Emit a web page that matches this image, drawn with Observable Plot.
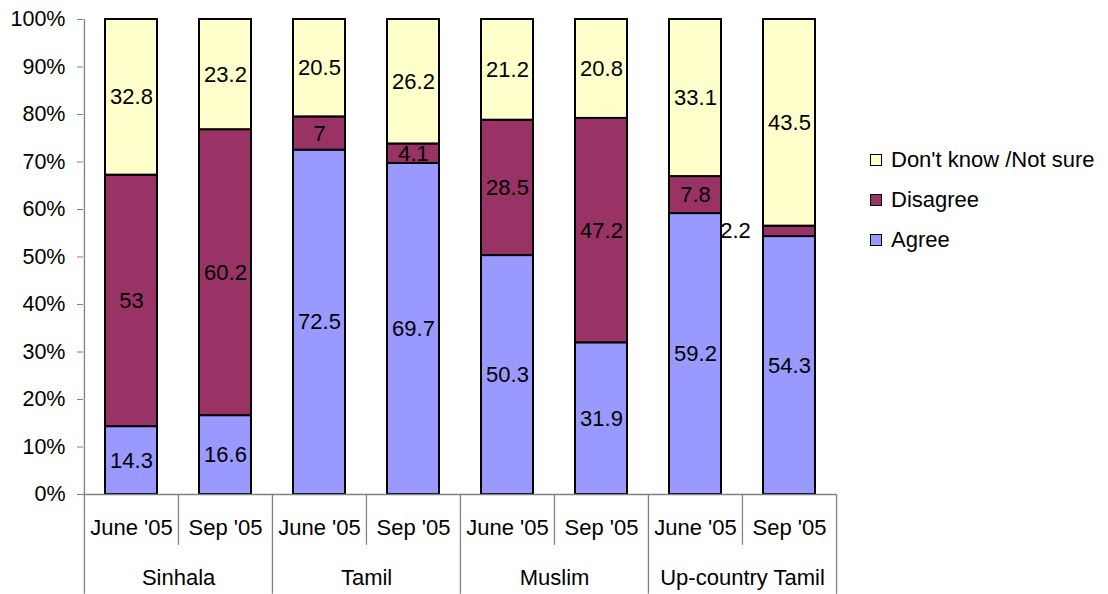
<!DOCTYPE html>
<html><head><meta charset="utf-8">
<script src="https://cdn.jsdelivr.net/npm/d3@7"></script>
<script src="https://cdn.jsdelivr.net/npm/@observablehq/plot@0.6"></script>
<style>
body{margin:0;background:#fff;font-family:"Liberation Sans",Arial,sans-serif;}
#wrap{position:relative;width:1108px;height:594px;overflow:hidden;}
#wrap svg{position:absolute;left:0;top:0;}
.legend{position:absolute;left:870px;top:140px;font-size:22px;color:#000;}
.item{display:flex;align-items:center;height:40px;white-space:pre;}
.sw{width:10px;height:10px;border:1.5px solid #000;margin-right:9px;}
</style></head><body><div id="wrap"></div>
<script>
const groups = ["Sinhala", "Tamil", "Muslim", "Up-country Tamil"];
const periods = ["June '05", "Sep '05"];
const series = ["Agree", "Disagree", "Don't know /Not sure"];
const agree = [14.3, 16.6, 72.5, 69.7, 50.3, 31.9, 59.2, 54.3];
const disagree = [53, 60.2, 7, 4.1, 28.5, 47.2, 7.8, 2.2];
const dontKnow = [32.8, 23.2, 20.5, 26.2, 21.2, 20.8, 33.1, 43.5];
const colors = ["#9999FF", "#993366", "#FFFFCC"];
const yTicks = [0, 0.1, 0.2, 0.3, 0.4, 0.5, 0.6, 0.7, 0.8, 0.9, 1];

const keys = [];
groups.forEach(g => periods.forEach(p => keys.push(g + "|" + p)));
const seriesValues = [agree, disagree, dontKnow];
const data = [];
keys.forEach((k, i) => series.forEach((s, j) => data.push({key: k, series: s, value: seriesValues[j][i]})));
const special = d => d.key === "Up-country Tamil|Sep '05" && d.series === "Disagree";

const W = 1108, H = 594, mL = 83, mR = 272, mT = 19, mB = 100;
const step = (W - mL - mR) / keys.length;
const firstKeys = groups.map(g => g + "|" + periods[0]);
const lastKey = keys[keys.length - 1];
const innerSep = groups.map(g => g + "|" + periods[1]);
const axisGrey = "#808080";

const chart = Plot.plot({
  width: W, height: H,
  marginLeft: mL, marginRight: mR, marginTop: mT, marginBottom: mB,
  style: {fontFamily: "'Liberation Sans', Arial, sans-serif", fontSize: "22px", color: "#000", background: "transparent"},
  x: {domain: keys, paddingInner: 0.45, paddingOuter: 0.225, axis: null},
  y: {domain: [0, 1], axis: null},
  color: {domain: series, range: colors},
  marks: [
    Plot.barY(data, Plot.stackY({x: "key", y: "value", fill: "series", offset: "normalize", stroke: "#000", strokeWidth: 2})),
    Plot.text(data, Plot.stackY({x: "key", y: "value", z: "series", offset: "normalize", text: d => special(d) ? "" : String(d.value), fill: "#000", fontSize: 22})),
    Plot.text(data, Plot.stackY({x: "key", y: "value", z: "series", offset: "normalize", text: d => special(d) ? String(d.value) : "", fill: "#000", fontSize: 22, dx: -54})),
    Plot.ruleY([0], {stroke: axisGrey, strokeWidth: 1.3}),
    Plot.axisY({ticks: yTicks, tickFormat: d => Math.round(d * 100) + "%", tickSize: 6, tickPadding: 12, stroke: axisGrey, fill: "#000", fontSize: 21.5, anchor: "left", label: null}),
    Plot.ruleX(firstKeys, {x: d => d, dx: -step / 2, y1: -0.21, y2: d => d === keys[0] ? 1 : 0, stroke: axisGrey, strokeWidth: 1.3}),
    Plot.ruleX([lastKey], {x: d => d, dx: step / 2, y1: -0.21, y2: 0, stroke: axisGrey, strokeWidth: 1.3}),
    Plot.ruleX(innerSep, {x: d => d, dx: -step / 2, y1: -0.107, y2: 0, stroke: axisGrey, strokeWidth: 1.3}),
    Plot.text(keys, {x: d => d, y: 0, dy: 33, text: d => d.split("|")[1], fill: "#000", fontSize: 22}),
    Plot.text(firstKeys, {x: d => d, y: 0, dx: step / 2, dy: 83, text: d => d.split("|")[0], fill: "#000", fontSize: 22})
  ]
});

const wrap = document.getElementById("wrap");
wrap.appendChild(chart);
const legend = document.createElement("div");
legend.className = "legend";
[2, 1, 0].forEach(i => {
  const it = document.createElement("div");
  it.className = "item";
  const sw = document.createElement("span");
  sw.className = "sw";
  sw.style.background = colors[i];
  it.appendChild(sw);
  it.appendChild(document.createTextNode(series[i]));
  legend.appendChild(it);
});
wrap.appendChild(legend);
</script></body></html>
